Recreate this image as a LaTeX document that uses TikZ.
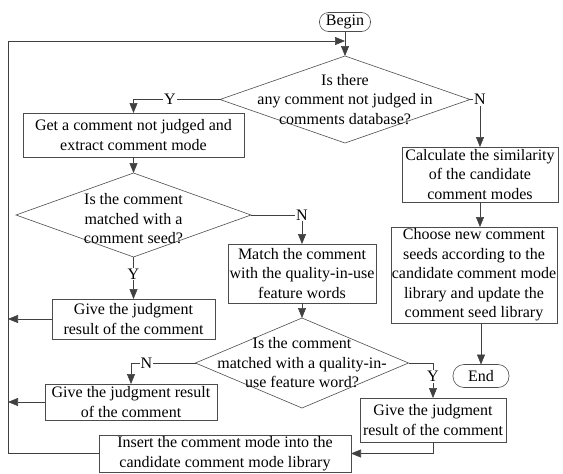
\documentclass[tikz,border=0pt]{standalone}
\usepackage{fontspec}
\setmainfont{Liberation Serif}
\usetikzlibrary{arrows.meta,positioning,calc,shapes.geometric}

\begin{document}
\begin{tikzpicture}[
      font=\fontsize{16}{19.5}\selectfont,
      line width=0.6pt,
      box/.style={draw=black!70, align=center, inner sep=0pt, outer sep=0pt},
      term/.style={box, rounded corners=9pt},
      decision/.style={draw=black!70, diamond, inner sep=0pt, outer sep=0pt},
      dtext/.style={align=center},
      yn/.style={fill=white, inner sep=1pt},
      flow/.style={draw=black!75, ->},
      >={Triangle[length=10pt,width=8pt]}]

    \useasboundingbox (0pt,0pt) rectangle (563pt,-474pt);

    % main column
    \node[term, minimum width=51pt, minimum height=19pt] (begin) at (345pt,-22pt) {Begin};
    \node[decision, minimum width=250pt, minimum height=87pt,
          label={[dtext]center:Is there\\any comment not judged in\\comments database?}]
      (d1) at (345pt,-99.5pt) {};
    \node[box, minimum width=221pt, minimum height=44pt] (extract) at (133.5pt,-135pt)
      {Get a comment not judged and\\extract comment mode};
    \node[decision, minimum width=235pt, minimum height=84pt,
          label={[dtext, yshift=-4pt]center:Is the comment\\matched with a\\comment seed?}]
      (d2) at (133.5pt,-215pt) {};
    \node[box, minimum width=163pt, minimum height=40pt] (judge1) at (133.5pt,-319pt)
      {Give the judgment\\result of the comment};
    \node[box, minimum width=148pt, minimum height=59pt] (match) at (302pt,-273.5pt)
      {Match the comment\\with the quality-in-use\\feature words};
    \node[decision, minimum width=213pt, minimum height=90pt,
          label={[dtext]center:Is the comment\\matched with a quality-in-\\use feature word?}]
      (d3) at (302pt,-363pt) {};
    \node[box, minimum width=172pt, minimum height=36pt] (judge2) at (131pt,-402pt)
      {Give the judgment result\\of the comment};
    \node[box, minimum width=146pt, minimum height=44pt] (judge3) at (433pt,-420pt)
      {Give the judgment\\result of the comment};
    \node[box, minimum width=252pt, minimum height=37pt] (insert) at (225pt,-453.5pt)
      {Insert the comment mode into the\\candidate comment mode library};

    % right column
    \node[box, minimum width=156pt, minimum height=55pt] (simil) at (480pt,-174.5pt)
      {Calculate the similarity\\of the candidate\\comment modes};
    \node[box, minimum width=166pt, minimum height=96pt] (seeds) at (474pt,-275pt)
      {Choose new comment\\seeds according to the\\candidate comment mode\\library and update the\\comment seed library};
    \node[term, rounded corners=11pt, minimum width=56pt, minimum height=23pt] (end) at (481pt,-376pt) {End};

    \coordinate (lt) at (8pt,-41pt);

    \draw[flow] (begin) -- (d1);
    \draw[flow] (d1.west) -| node[yn, pos=0.29] {Y} (extract.north);
    \draw[flow] (d1.east) -| node[yn, pos=0.5] {N} (simil.north);
    \draw[flow] (extract) -- (d2);
    \draw[flow] (d2.south) -- node[yn, pos=0.4] {Y} (judge1.north);
    \draw[flow] (d2.east) -| node[yn, pos=0.5] {N} (match.north);
    \draw[flow] (match) -- (d3);
    \draw[flow] (d3.west) -| node[yn, pos=0.38] {N} (judge2.north);
    \draw[flow] (d3.east) -| node[yn, pos=0.69] {Y} (judge3.north);
    \draw[flow] (judge3.south) |- (insert.east);
    \draw[flow] (judge1.west) -- (judge1.west -| lt);
    \draw[flow] (judge2.west) -- (judge2.west -| lt);
    % loop back to the first question
    \draw[flow] (insert.west) -| (lt) -- (lt -| d1.north);
    \draw[flow] (simil.south) -- (simil.south |- seeds.north);
    \draw[flow] (end.north |- seeds.south) -- (end.north);
  \end{tikzpicture}
\end{document}
